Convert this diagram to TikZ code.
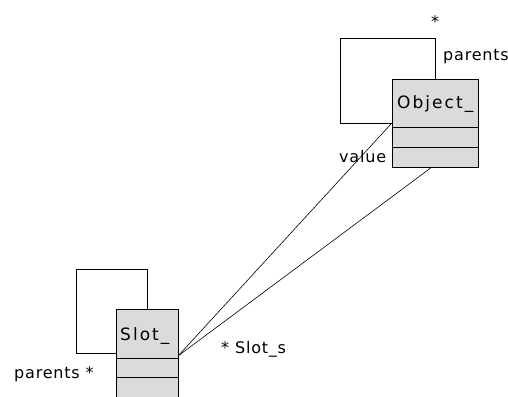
\documentclass[tikz,border=0pt]{standalone}
\usepackage{fontspec}
\setmainfont{DejaVu Sans}
\begin{document}
\begin{tikzpicture}[x=1pt,y=-1pt,
  cls/.style={draw=black,line width=0.9pt,fill=black!14,minimum width=#1,inner sep=0pt,anchor=north west},
  loopline/.style={draw=black,line width=0.9pt},
  conn/.style={draw=black,line width=0.6pt},
  lbl/.style={font=\fontsize{16}{18}\selectfont\addfontfeature{LetterSpace=5},inner sep=0pt},
  cname/.style={font=\fontsize{17}{19}\selectfont\addfontfeature{LetterSpace=12},inner sep=0pt}]
\useasboundingbox (0,0) rectangle (508,396);
\clip (0,0) rectangle (508,396);
% Object_ class
\node[cls=86pt,minimum height=88pt] (obj) at (392,79) {};
\draw[line width=0.9pt] (392,127) -- (478,127) (392,147) -- (478,147);
\node[cname,anchor=west] (objname) at (397,104) {Object\_};
\draw[loopline] (435,79) |- (340,38) |- (392,123);
\node[lbl] (ostar) at (435,22) {*};
\node[lbl,anchor=west] (opar) at (443,57) {parents};
% Slot_ class
\node[cls=62pt,minimum height=88pt] (slot) at (116,309) {};
\draw[line width=0.9pt] (116,358) -- (178,358) (116,377) -- (178,377);
\node[cname,anchor=west] (slotname) at (120,336) {Slot\_};
\draw[loopline] (147,309) |- (76,269) |- (116,353);
\node[lbl,anchor=west] (spar) at (14,374) {parents *};
% connectors
\coordinate (s) at (178,356);
\coordinate (o1) at (391,124);
\coordinate (o2) at (432,167);
\draw[conn] (s) -- (o1);
\draw[conn] (s) -- (o2);
\node[lbl,anchor=west] (val) at (339,157) {value};
\node[lbl,anchor=west] (ss) at (221,349) {* Slot\_s};
\end{tikzpicture}
\end{document}
